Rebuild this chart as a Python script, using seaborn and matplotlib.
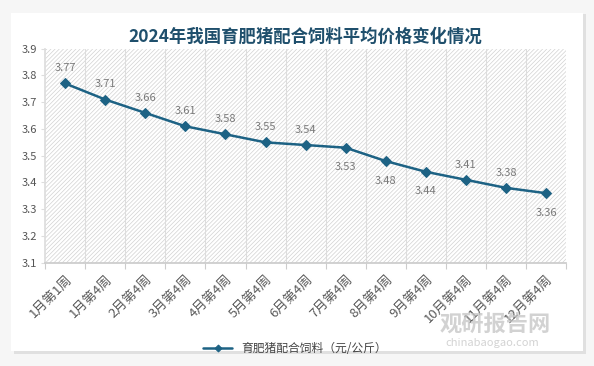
import numpy as np
import pandas as pd
import matplotlib
matplotlib.use("Agg")
import matplotlib.pyplot as plt
import seaborn as sns
from matplotlib.patches import Rectangle

# data
weeks = ["1月第1周", "1月第4周", "2月第4周", "3月第4周", "4月第4周", "5月第4周",
         "6月第4周", "7月第4周", "8月第4周", "9月第4周", "10月第4周", "11月第4周", "12月第4周"]
prices = [3.77, 3.71, 3.66, 3.61, 3.58, 3.55, 3.54, 3.53, 3.48, 3.44, 3.41, 3.38, 3.36]
label_below = [False, False, False, False, False, False, False, True, True, True, False, False, True]
series_name = "育肥猪配合饲料（元/公斤）"

df = pd.DataFrame({"week": weeks, "price": prices})
df["x"] = range(len(df))

sns.set_theme(style="white")
plt.rcParams["font.family"] = ["Noto Sans CJK SC", "DejaVu Sans"]
plt.rcParams["hatch.linewidth"] = 0.5

fig = plt.figure(figsize=(5.94, 3.66), dpi=100)
fig.patch.set_facecolor("#f6f6f6")
# card with shadow
fig.patches.append(Rectangle((0.024, 0.033), 0.962, 0.93, transform=fig.transFigure,
                             facecolor="#e0e0e0", edgecolor="none", zorder=-10))
fig.patches.append(Rectangle((0.019, 0.040), 0.962, 0.925, transform=fig.transFigure,
                             facecolor="white", edgecolor="none", zorder=-9))

ax = fig.add_axes([0.076, 0.282, 0.877, 0.585])
ax.set_facecolor("white")
ax.add_patch(Rectangle((0, 0), 1, 1, transform=ax.transAxes, facecolor="white",
                       edgecolor="#d2d2d2", linewidth=0, hatch="////////", zorder=0))

color = "#1d6284"
sns.lineplot(data=df, x="x", y="price", ax=ax, color=color, linewidth=1.8,
             marker="D", markersize=5, markeredgecolor=color, label=series_name, zorder=3)

for x, y, below in zip(df["x"], df["price"], label_below):
    off = -14 if below else 11
    ax.annotate(f"{y:.2f}", (x, y), textcoords="offset points", xytext=(0, off),
                ha="center", va="center", fontsize=8, color="#7a7a7a")

ax.set_xlim(-0.5, len(weeks) - 0.5)
ax.set_ylim(3.1, 3.9)
yt = np.arange(3.1, 3.91, 0.1)
ax.set_yticks(yt)
ax.set_yticklabels([f"{v:.1f}" for v in yt], fontsize=8, color="#555555")
ax.set_xticks(range(len(weeks)))
ax.set_xticklabels(weeks, rotation=45, ha="right", rotation_mode="anchor",
                   fontsize=9.5, color="#595959")
ax.set_xticks(np.arange(-0.5, len(weeks), 1), minor=True)
ax.tick_params(axis="x", which="major", length=0, pad=7)
ax.tick_params(axis="x", which="minor", length=4, width=0.8, color="#cccccc", bottom=True)
ax.tick_params(axis="y", length=3, width=0.8, color="#dddddd", left=True, pad=3)
for b in np.arange(0.5, len(weeks) - 0.5, 1):
    ax.axvline(b, color="#dddddd", linewidth=0.8, zorder=1)
for s in ["top", "right"]:
    ax.spines[s].set_visible(False)
ax.spines["left"].set_color("#dddddd")
ax.spines["bottom"].set_color("#cccccc")
ax.set_xlabel("")
ax.set_ylabel("")

ax.set_title("2024年我国育肥猪配合饲料平均价格变化情况", fontsize=12.5, fontweight="bold",
             color="#1f4f6c", pad=5)

ax.legend(loc="center", bbox_to_anchor=(0.48, -0.4), frameon=False, fontsize=8.5,
          handlelength=2.4, markerscale=0.7, labelcolor="#444444")

# watermark
fig.text(0.74, 0.095, "观研报告网", fontsize=16, fontweight="bold", color="#c4c4c4", alpha=0.75)
fig.text(0.75, 0.055, "chinabaogao.com", fontsize=8, color="#c4c4c4", alpha=0.75)

fig.savefig("out.png", dpi=100, facecolor=fig.get_facecolor())
